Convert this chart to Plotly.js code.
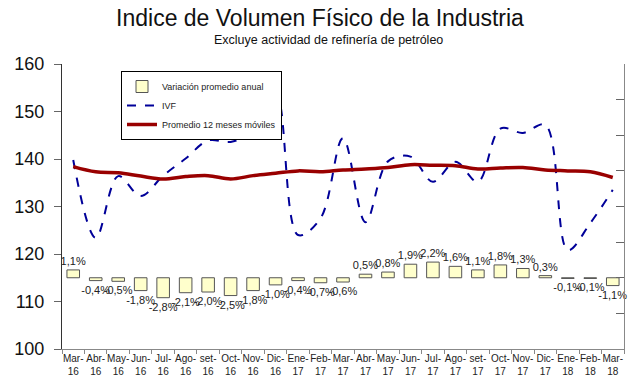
<!DOCTYPE html>
<html>
<head>
<meta charset="utf-8">
<script src="https://cdn.plot.ly/plotly-3.0.1.min.js"></script>
<style>html,body{margin:0;padding:0;background:#fff;}#chart{width:640px;height:387px;}</style>
</head>
<body>
<div id="chart"></div>
<script>
const categories = ['Mar-16','Abr-16','May-16','Jun-16','Jul-16','Ago-16','set-16','Oct-16','Nov-16','Dic-16','Ene-17','Feb-17','Mar-17','Abr-17','May-17','Jun-17','Jul-17','Ago-17','set-17','Oct-17','Nov-17','Dic-17','Ene-18','Feb-18','Mar-18'];
const variacion = [1.1, -0.4, -0.5, -1.8, -2.8, -2.1, -2.0, -2.5, -1.8, -1.0, -0.4, -0.7, -0.6, 0.5, 0.8, 1.9, 2.2, 1.6, 1.1, 1.8, 1.3, 0.3, -0.1, -0.1, -1.1];
const ivf = [139.8, 123.4, 136.4, 132.2, 136.5, 140.1, 143.9, 143.6, 145.7, 154.0, 124.0, 127.5, 144.4, 126.7, 139.5, 140.5, 135.2, 139.4, 135.2, 146.4, 145.5, 147.2, 120.8, 126.5, 133.5];
const promedio = [138.4, 137.3, 137.1, 136.4, 135.8, 136.3, 136.5, 135.8, 136.5, 137.0, 137.5, 137.3, 137.7, 137.9, 138.2, 138.8, 138.7, 138.6, 137.9, 138.1, 138.2, 137.7, 137.5, 137.3, 136.1];
const tickLabels = categories.map(c => c.replace('-', '-<br>'));
const barLabels = variacion.map(v => v.toFixed(1).replace('.', ',') + '%');

const FONT = 'Arial, "Liberation Sans", sans-serif';

const traces = [
  {
    type: 'bar', name: 'Variación promedio anual', x: categories, y: variacion, yaxis: 'y2',
    marker: {color: '#FFFFCC', line: {color: '#555555', width: 1}}, width: 0.56,
    text: barLabels, textposition: 'outside', cliponaxis: false, constraintext: 'none',
    textfont: {family: FONT, size: 11, color: '#222'}
  },
  {
    type: 'scatter', mode: 'lines', name: 'IVF', x: categories, y: ivf,
    line: {color: '#000099', width: 2, dash: 'dash', shape: 'spline'}
  },
  {
    type: 'scatter', mode: 'lines', name: 'Promedio 12 meses móviles', x: categories, y: promedio,
    line: {color: '#990000', width: 3.5, shape: 'spline'}
  }
];

const layout = {
  width: 640, height: 387,
  margin: {l: 62, r: 16, t: 64, b: 38},
  paper_bgcolor: '#fff', plot_bgcolor: '#fff',
  font: {family: FONT, color: '#222'},
  title: {text: 'Indice de Volumen Físico de la Industria', font: {family: FONT, size: 23, color: '#111'},
          x: 0.5, xref: 'container', y: 1 - 18/387, yref: 'container', yanchor: 'middle'},
  annotations: [{
    text: 'Excluye actividad de refinería de petróleo', xref: 'paper', yref: 'paper',
    x: (328-62)/562, y: (349-40)/285, xanchor: 'center', yanchor: 'middle', showarrow: false,
    font: {family: FONT, size: 12.5, color: '#111'}
  }],
  xaxis: {
    type: 'category', tickvals: categories, ticktext: tickLabels, tickangle: 0,
    tickfont: {family: FONT, size: 10, color: '#222'},
    showline: true, linecolor: '#888', ticks: 'outside', tickson: 'boundaries', ticklen: 4, tickcolor: '#888',
    showgrid: false, zeroline: false
  },
  yaxis: {
    range: [100, 160], dtick: 10, tickfont: {family: FONT, size: 18, color: '#111'},
    ticks: 'outside', ticklen: 7, tickcolor: '#666', showline: true, linecolor: '#333',
    ticklabelstandoff: 6, showgrid: false, zeroline: false
  },
  yaxis2: {
    overlaying: 'y', side: 'right', range: [-10, 30], dtick: 5, showticklabels: false,
    ticks: 'inside', ticklen: 8, tickcolor: '#666', showline: true, linecolor: '#888',
    showgrid: false, zeroline: false
  },
  showlegend: true,
  legend: {
    x: (121-62)/562, y: (349-71)/285, xanchor: 'left', yanchor: 'top',
    bgcolor: '#fff', bordercolor: '#000', borderwidth: 1,
    font: {family: FONT, size: 9, color: '#222'}, traceorder: 'normal'
  }
};

Plotly.newPlot('chart', traces, layout, {staticPlot: true, displayModeBar: false});
</script>
</body>
</html>
